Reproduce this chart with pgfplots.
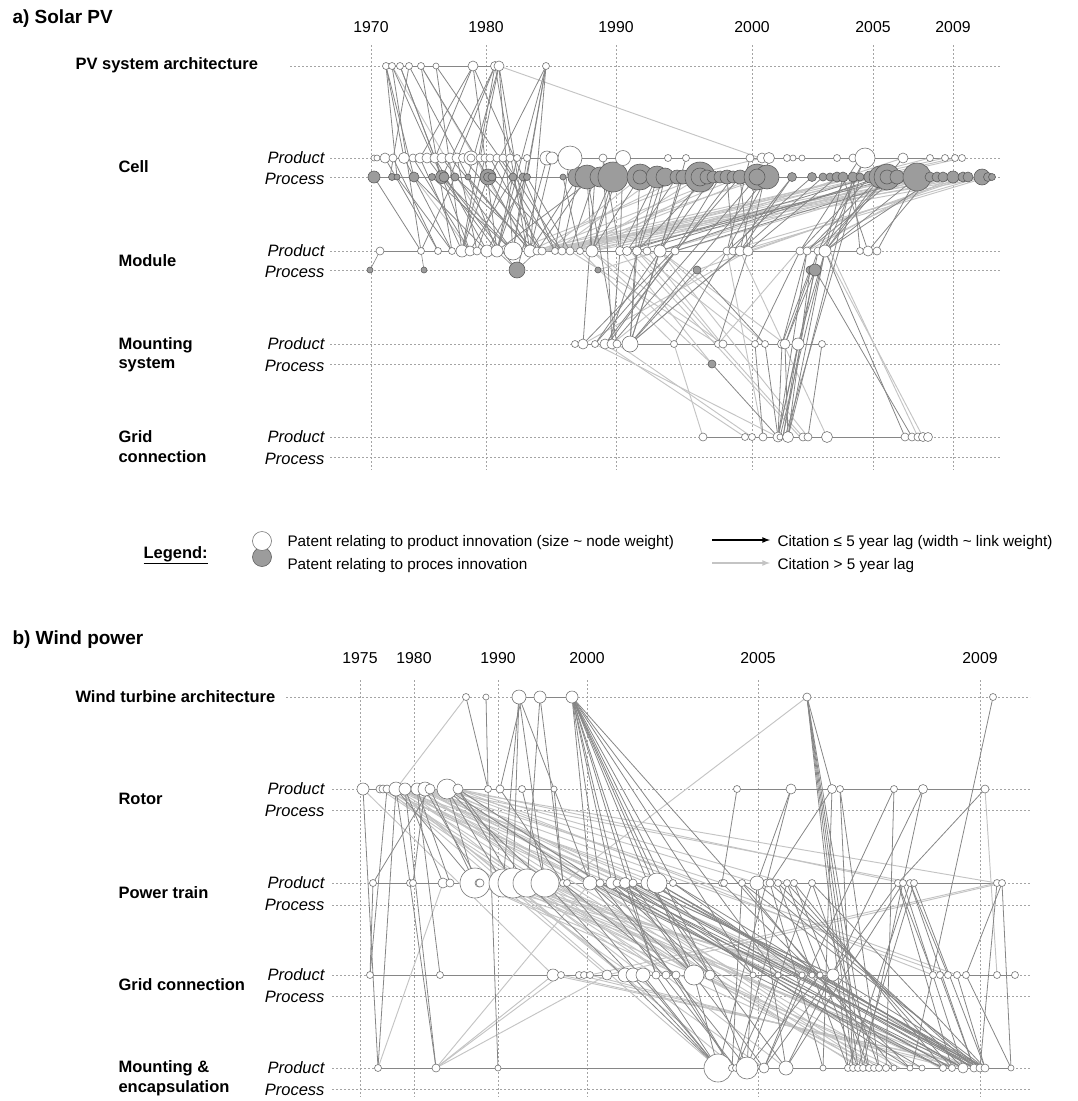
\documentclass[border=0pt]{standalone}
\usepackage{pgfplots}
\pgfplotsset{compat=1.18}
\usepackage{fontspec}
\setmainfont{Liberation Sans}
\definecolor{edgeD}{HTML}{868686}
\definecolor{edgeL}{HTML}{C4C4C4}
\definecolor{nodeE}{HTML}{767676}
\definecolor{procF}{HTML}{9C9C9C}
\definecolor{gridC}{HTML}{A4A4A4}
\pgfplotsset{
 seg/.style={mark=none, quiver={u=\thisrow{x2}-\thisrow{x1}, v=\thisrow{y2}-\thisrow{y1}}},
 gridl/.style={seg, color=gridC, line width=0.6pt, dash pattern=on 2pt off 2pt},
 rowl/.style={seg, color=edgeD, line width=0.6pt},
 dk/.style={seg, color=edgeD, line width=0.8pt},
 lt/.style={seg, color=edgeL, line width=0.95pt},
 nodeP/.style={scatter, only marks, mark=*, point meta=\thisrow{r},
   scatter/use mapped color={draw=nodeE, fill=white},
   visualization depends on={\thisrow{r}\as\rad},
   scatter/@pre marker code/.append style={/tikz/mark size=\rad},
   mark options={line width=0.6pt}},
 nodeQ/.style={scatter, only marks, mark=*, point meta=\thisrow{r},
   scatter/use mapped color={draw=nodeE!80!black, fill=procF},
   visualization depends on={\thisrow{r}\as\rad},
   scatter/@pre marker code/.append style={/tikz/mark size=\rad},
   mark options={line width=0.6pt}},
}
\newcommand{\fTtl}{\fontsize{19}{21}\selectfont\bfseries}
\newcommand{\fLbl}{\fontsize{16.5}{18}\selectfont\bfseries}
\newcommand{\fPP}{\fontsize{16.5}{18}\selectfont\itshape}
\newcommand{\fYr}{\fontsize{15.8}{17}\selectfont}
\newcommand{\fLg}{\fontsize{15.3}{17}\selectfont}
\begin{document}
\begin{tikzpicture}
\begin{axis}[width=1077pt, height=1101pt, scale only axis, hide axis, clip=false,
  xmin=0, xmax=1077, ymin=0, ymax=1101, y dir=reverse]
% ---------------- grid lines ----------------
\addplot[gridl] table[x=x1,y=y1] {
x1 y1 x2 y2
371 45 371 470
486 45 486 470
616 45 616 470
752 45 752 470
873 45 873 470
953 45 953 470
290 66 1000 66
330 158 1000 158
330 177 1000 177
330 251 1000 251
330 270 1000 270
330 344 1000 344
330 364 1000 364
330 437 1000 437
330 457 1000 457
360 680 360 1097
414 680 414 1097
498 680 498 1097
587 680 587 1097
758 680 758 1097
980 680 980 1097
286 697 1030 697
332 789 1030 789
332 810 1030 810
332 883 1030 883
332 905 1030 905
332 975 1030 975
332 996 1030 996
332 1068 1030 1068
332 1089 1030 1089
};
% ---------------- solar: row lines ----------------
\addplot[rowl] table[x=x1,y=y1] {
x1 y1 x2 y2
386 66 499 66
374 158 962 158
374 177 992 177
380 251 877 251
370 270 380 251
424 270 421 251
517 270 497 251
517 270 537 251
575 344 822 344
703 437 928 437
};
% ---------------- solar: light edges ----------------
\addplot[lt] table[x=x1,y=y1] {
x1 y1 x2 y2
499 66 760 158
392 66 500 251
421 66 530 251
917 177 542 251
930 177 555 251
943 177 562 251
953 177 570 251
968 177 580 251
982 177 537 251
988 177 592 251
963 177 530 251
937 177 547 251
945 158 530 251
955 158 542 251
962 158 555 251
930 158 570 251
903 158 620 251
870 177 592 251
853 177 562 251
897 177 598 270
917 177 660 251
930 177 675 251
963 177 697 270
982 177 727 251
988 177 740 251
968 177 748 251
953 177 800 251
943 177 807 251
630 251 800 437
660 251 808 437
637 251 803 437
674 344 703 437
830 251 918 437
825 251 923 437
740 251 827 437
727 251 763 437
605 344 745 437
617 344 752 437
595 344 778 437
647 251 722 344
637 251 755 344
660 251 765 344
718 344 798 251
630 344 740 251
612 344 727 251
583 344 748 251
580 251 674 344
570 251 718 344
592 251 723 344
660 251 785 344
592 251 712 364
712 364 620 251
414 177 470 251
762 158 683 177
640 177 547 251
657 177 555 251
700 177 580 251
720 177 592 251
740 177 562 251
757 177 570 251
767 177 542 251
683 177 530 251
700 177 513 251
727 177 537 251
};
% ---------------- solar: dark edges ----------------
\addplot[dk] table[x=x1,y=y1] {
x1 y1 x2 y2
386 66 404 158
386 66 414 177
386 66 397 177
392 66 442 177
392 66 421 251
400 66 470 251
400 66 435 158
409 66 468 177
409 66 390 177
421 66 488 177
421 66 452 251
436 66 513 177
436 66 462 251
473 66 435 158
473 66 497 251
473 66 523 177
473 66 420 158
495 66 450 177
495 66 462 251
495 66 527 251
495 66 442 177
499 66 513 251
499 66 530 251
499 66 480 158
499 66 468 177
546 66 490 177
546 66 513 251
546 66 530 251
546 66 527 177
546 66 497 251
442 177 513 251
455 177 537 251
468 177 497 251
488 177 530 251
513 177 470 251
523 177 555 251
527 177 487 251
490 158 542 251
503 158 562 251
510 158 477 251
420 158 462 251
435 158 487 251
404 158 452 251
385 158 438 251
444 177 517 270
547 158 517 270
414 177 487 251
432 177 513 251
492 177 562 251
497 158 555 251
578 177 530 251
587 177 537 251
595 177 497 251
563 177 580 251
595 177 583 344
603 158 612 344
640 177 630 344
663 177 608 344
587 177 617 344
683 177 630 344
613 177 592 251
623 158 620 251
657 177 637 251
700 177 660 251
720 177 675 251
733 177 605 344
757 177 612 344
767 177 630 344
740 177 595 344
880 177 660 251
887 177 637 251
897 177 620 251
917 177 675 251
870 177 627 251
880 177 825 251
887 177 818 251
897 177 807 251
917 177 825 251
937 177 825 251
860 158 800 251
865 158 818 251
843 177 780 437
860 177 785 437
853 177 788 437
837 177 748 251
812 177 727 251
792 177 740 251
620 251 612 344
637 251 630 344
660 251 595 344
660 251 630 344
675 251 608 344
673 251 583 344
740 251 630 344
727 251 674 344
748 251 718 344
697 270 630 344
697 270 765 344
810 270 782 344
815 270 785 344
825 251 798 344
818 251 785 344
807 251 782 344
800 251 755 344
815 270 778 437
818 251 783 437
825 251 788 437
810 270 788 437
798 344 778 437
782 344 778 437
785 344 788 437
822 344 808 437
765 344 778 437
755 344 763 437
712 364 778 437
825 251 905 437
815 270 912 437
798 344 783 437
807 251 778 437
374 177 421 251
393 158 438 251
413 158 470 251
427 158 497 251
442 158 513 251
450 158 530 251
457 158 477 251
463 158 542 251
485 158 462 251
517 158 497 251
527 158 513 251
552 158 530 251
570 158 555 251
397 177 452 251
455 177 421 251
468 177 530 251
488 177 462 251
513 177 537 251
523 177 497 251
527 177 570 251
578 177 562 251
587 177 592 251
595 177 570 251
613 177 580 251
640 177 592 251
657 177 620 251
665 177 647 251
677 177 627 251
707 177 637 251
713 177 660 251
727 177 733 251
740 177 748 251
757 177 740 251
767 177 727 251
792 177 733 251
823 177 740 251
870 177 800 251
880 177 807 251
843 177 868 251
853 177 860 251
917 177 877 251
930 177 868 251
603 158 620 251
623 158 592 251
686 158 660 251
750 158 727 251
769 158 748 251
865 158 825 251
903 158 825 251
};
% ---------------- solar: nodes ----------------
\addplot[nodeQ] table {
x y r
374 177 6
392 177 3.5
397 177 3
414 177 5
432 177 3.5
442 177 6.5
444 177 5
455 177 4
468 177 3
488 177 8
488 177 4.5
492 177 4
513 177 4
523 177 4
527 177 3.5
563 177 3
578 177 10
587 177 12
600 177 10
613 177 15
640 177 13
640 177 7
657 177 11
665 177 9
677 177 7
683 177 7
700 177 15
700 177 9
707 177 7
713 177 6
720 177 6
727 177 7
733 177 6
740 177 7
757 177 13
767 177 12
757 177 8
792 177 4.5
812 177 4.5
823 177 4
830 177 4
837 177 5
843 177 5
853 177 5
860 177 4
870 177 6
880 177 11
887 177 13
887 177 7
897 177 7
917 177 14
930 177 5
937 177 5
943 177 5
953 177 6
963 177 5
968 177 5
982 177 8
988 177 4.5
992 177 3.5
370 270 3
424 270 3
517 270 8
598 270 3
697 270 4
810 270 4
815 270 6
712 364 4
};
\addplot[nodeP] table {
x y r
386 66 3.5
392 66 3.5
400 66 3.5
409 66 3.5
421 66 3.5
436 66 3
473 66 5
495 66 4.5
499 66 5
546 66 3.5
374 158 3
377 158 3
385 158 5
393 158 4
404 158 5.5
413 158 4
420 158 5
427 158 5
435 158 5
442 158 5
450 158 5
457 158 5
463 158 4.5
471 158 7
471 158 4
480 158 4
485 158 4
490 158 4
497 158 4
503 158 4
510 158 4
517 158 3.5
527 158 3.5
547 158 7
552 158 6
570 158 12
603 158 4
623 158 7.5
668 158 3.5
686 158 3.5
750 158 4
762 158 5
769 158 5.5
787 158 3.5
793 158 3
802 158 3
837 158 3.5
853 158 4
865 158 10
903 158 5
930 158 3.5
945 158 3.5
955 158 3.5
962 158 3.5
380 251 4
421 251 3.5
438 251 3.5
452 251 3.5
462 251 6
470 251 5
477 251 4
487 251 6
497 251 6
513 251 9
530 251 6
537 251 4
542 251 4
555 251 3.5
562 251 4
570 251 4
580 251 3.5
592 251 6
620 251 4.5
627 251 4.5
637 251 4.5
647 251 4
660 251 6
675 251 4
727 251 4
733 251 4
740 251 5
748 251 5
800 251 4
807 251 4
818 251 4
825 251 6
860 251 3.5
868 251 5
877 251 4
575 344 3.5
583 344 5
595 344 3.5
605 344 5
612 344 5
617 344 4
630 344 8
674 344 3.5
718 344 3.5
723 344 4
755 344 3.5
765 344 3.5
782 344 4.5
785 344 5
798 344 6
822 344 3.5
703 437 4
745 437 3.5
752 437 3.5
763 437 4
778 437 5
780 437 3
788 437 5.5
803 437 4
808 437 4
827 437 5.5
905 437 4
912 437 4
918 437 4
923 437 4.5
928 437 4.5
};
% ---------------- wind: row lines ----------------
\addplot[rowl] table[x=x1,y=y1] {
x1 y1 x2 y2
519 697 572 697
363 789 554 789
737 789 985 789
373 883 1002 883
370 975 1015 975
378 1068 1011 1068
};
% ---------------- wind: light edges ----------------
\addplot[lt] table[x=x1,y=y1] {
x1 y1 x2 y2
466 697 396 789
807 697 563 883
396 789 545 883
396 789 590 883
396 789 633 883
396 789 674 883
405 789 700 975
405 789 778 975
417 789 860 1068
425 789 900 1068
430 789 940 1068
447 789 985 1068
447 789 957 975
458 789 933 975
425 789 812 975
396 789 718 1068
458 789 903 883
447 789 997 883
430 789 914 883
425 789 948 975
417 789 694 975
405 789 643 975
396 789 625 975
387 789 607 975
383 789 590 883
380 789 612 883
447 789 757 883
458 789 787 883
430 789 722 883
425 789 648 883
417 789 657 883
436 1068 553 975
436 1068 561 975
436 1068 590 883
436 1068 607 975
378 1068 443 883
503 883 974 1068
513 883 963 1068
527 883 952 1068
545 883 943 1068
475 883 922 1068
475 883 886 1068
503 883 910 1068
513 883 894 1068
527 883 874 1068
545 883 863 1068
475 883 833 975
503 883 820 975
513 883 812 975
527 883 802 975
545 883 778 975
475 883 753 975
553 975 985 1068
561 975 980 1068
579 975 963 1068
590 975 952 1068
985 789 997 975
590 975 997 883
607 975 1002 883
363 789 553 975
383 789 666 975
380 789 656 975
387 789 676 975
405 789 710 975
417 789 820 975
430 789 833 975
447 789 874 1068
458 789 879 1068
425 789 869 1068
396 789 736 1068
503 883 764 1068
545 883 786 1068
};
% ---------------- wind: dark edges ----------------
\addplot[dk] table[x=x1,y=y1] {
x1 y1 x2 y2
466 697 488 789
486 697 488 789
519 697 503 883
519 697 513 883
522 697 500 789
540 697 527 883
519 697 545 883
572 697 617 883
572 697 633 883
572 697 648 883
572 697 658 883
572 697 674 883
572 697 694 975
572 697 710 975
572 697 753 975
572 697 778 975
572 697 820 975
572 697 656 975
807 697 848 1068
807 697 853 1068
807 697 858 1068
807 697 863 1068
807 697 869 1068
807 697 832 789
993 697 912 1068
363 789 378 1068
396 789 378 1068
405 789 436 1068
417 789 440 975
387 789 370 975
396 789 475 883
447 789 475 883
447 789 503 883
458 789 513 883
425 789 480 883
430 789 373 883
488 789 498 1068
522 789 545 883
458 789 527 883
447 789 545 883
410 883 436 1068
373 883 370 975
554 789 563 883
500 789 563 883
600 883 985 1068
612 883 980 1068
625 883 974 1068
633 883 963 1068
648 883 985 1068
657 883 980 1068
673 883 974 1068
590 883 963 1068
617 883 952 1068
742 883 985 1068
757 883 980 1068
770 883 974 1068
778 883 963 1068
787 883 952 1068
794 883 943 1068
812 883 985 1068
600 883 943 1068
612 883 922 1068
625 883 910 1068
563 883 676 975
590 883 694 975
612 883 710 975
633 883 694 975
648 883 710 975
657 883 753 975
625 883 656 975
545 883 718 1068
527 883 718 1068
590 883 736 1068
612 883 732 1068
694 975 718 1068
656 975 718 1068
676 975 732 1068
710 975 747 1068
778 975 736 1068
820 975 747 1068
802 975 764 1068
643 975 718 1068
736 1068 787 883
747 1068 812 883
764 1068 898 883
786 1068 903 883
786 1068 923 789
764 1068 894 789
848 1068 910 883
858 1068 914 883
823 1068 832 789
853 1068 840 789
718 1068 791 789
732 1068 742 883
747 1068 757 883
933 975 898 883
948 975 910 883
957 975 985 1068
966 975 1011 1068
940 975 974 1068
997 883 980 1068
1002 883 1011 1068
1002 883 966 975
985 789 898 883
923 789 863 1068
894 789 886 1068
840 789 879 1068
791 789 757 883
737 789 722 883
832 789 770 883
633 883 833 975
648 883 820 975
657 883 812 975
673 883 802 975
833 975 985 1068
820 975 980 1068
396 789 410 883
405 789 443 883
417 789 450 883
425 789 413 883
447 789 590 883
458 789 600 883
430 789 475 883
572 697 590 883
572 697 600 883
572 697 612 883
540 697 563 883
519 697 590 883
563 883 718 1068
600 883 747 1068
625 883 764 1068
648 883 786 1068
757 883 786 1068
770 883 823 1068
778 883 848 1068
787 883 858 1068
794 883 869 1068
812 883 879 1068
742 883 894 1068
722 883 910 1068
898 883 952 1068
903 883 963 1068
910 883 974 1068
914 883 985 1068
812 975 974 1068
802 975 963 1068
778 975 952 1068
753 975 943 1068
};
% ---------------- wind: nodes ----------------
\addplot[nodeP] table {
x y r
466 697 3.5
486 697 3
519 697 7
540 697 6
572 697 6
807 697 4
993 697 3.5
363 789 6
380 789 4
383 789 4
387 789 4
396 789 7
405 789 6
417 789 6
425 789 7
430 789 5
447 789 10
458 789 5
488 789 3.5
500 789 4
522 789 3.5
554 789 3
737 789 3.5
791 789 5
832 789 4.5
840 789 3.5
894 789 3.5
923 789 4.5
985 789 4
373 883 3.5
410 883 3.5
413 883 3.5
443 883 5
450 883 4
475 883 15
479 883 4
480 883 4
503 883 14
513 883 15
527 883 14
545 883 14
563 883 3.5
567 883 3.5
590 883 7
600 883 4
612 883 6
617 883 4
625 883 5.5
633 883 4
648 883 7
657 883 10
673 883 3.5
722 883 3.5
724 883 3.5
742 883 3.5
757 883 7
767 883 4
770 883 4
778 883 3.5
787 883 3.5
794 883 3.5
812 883 3.5
898 883 3.5
903 883 3.5
910 883 3.5
914 883 3.5
997 883 3.5
1002 883 3.5
370 975 3.5
440 975 3.5
553 975 6
561 975 3.5
579 975 3.5
584 975 3.5
590 975 3.5
607 975 5
625 975 7
633 975 7
643 975 7
656 975 4
666 975 4
676 975 4
694 975 10
710 975 5
753 975 3
778 975 3
802 975 3
812 975 3
820 975 3
833 975 6
933 975 3.5
940 975 3.5
948 975 3.5
957 975 3.5
966 975 3.5
997 975 3.5
1015 975 3.5
378 1068 3.5
436 1068 4
498 1068 3
718 1068 14
732 1068 3.5
736 1068 3.5
747 1068 11
764 1068 5
786 1068 7
823 1068 3
848 1068 3.5
853 1068 3.5
858 1068 3.5
863 1068 3.5
869 1068 3.5
874 1068 3.5
879 1068 3.5
886 1068 3.5
894 1068 3
910 1068 3
922 1068 3
943 1068 3.5
952 1068 3.5
963 1068 5
974 1068 4
980 1068 4
985 1068 4
1011 1068 3
};
% ---------------- legend ----------------
\addplot[nodeQ] table {
x y r
262 557 9.5
};
\addplot[nodeP] table {
x y r
262 541 9.5
};
\addplot[black, line width=1.6pt, -latex, mark=none] coordinates {(712,540) (770,540)};
\addplot[edgeL, line width=1.6pt, -latex, mark=none] coordinates {(712,563) (770,563)};
% ---------------- texts ----------------
\node[anchor=west, font=\fTtl] at (axis cs:9,19) {a) Solar PV};
\node[anchor=west, font=\fTtl] at (axis cs:9,640) {b) Wind power};
\node[font=\fYr] at (axis cs:371,27) {1970};
\node[font=\fYr] at (axis cs:486,27) {1980};
\node[font=\fYr] at (axis cs:616,27) {1990};
\node[font=\fYr] at (axis cs:752,27) {2000};
\node[font=\fYr] at (axis cs:873,27) {2005};
\node[font=\fYr] at (axis cs:953,27) {2009};
\node[font=\fYr] at (axis cs:360,658) {1975};
\node[font=\fYr] at (axis cs:414,658) {1980};
\node[font=\fYr] at (axis cs:498,658) {1990};
\node[font=\fYr] at (axis cs:587,658) {2000};
\node[font=\fYr] at (axis cs:758,658) {2005};
\node[font=\fYr] at (axis cs:980,658) {2009};
\node[anchor=west, font=\fLbl] at (axis cs:72,65) {PV system architecture};
\node[anchor=west, font=\fLbl] at (axis cs:115,167) {Cell};
\node[anchor=west, font=\fLbl] at (axis cs:115,261) {Module};
\node[anchor=west, font=\fLbl] at (axis cs:115,345) {Mounting};
\node[anchor=west, font=\fLbl] at (axis cs:115,365) {system};
\node[anchor=west, font=\fLbl] at (axis cs:115,437) {Grid};
\node[anchor=west, font=\fLbl] at (axis cs:115,457) {connection};
\node[anchor=west, font=\fLbl] at (axis cs:72,697) {Wind turbine architecture};
\node[anchor=west, font=\fLbl] at (axis cs:115,799) {Rotor};
\node[anchor=west, font=\fLbl] at (axis cs:115,893) {Power train};
\node[anchor=west, font=\fLbl] at (axis cs:115,985) {Grid connection};
\node[anchor=west, font=\fLbl] at (axis cs:115,1068) {Mounting \&};
\node[anchor=west, font=\fLbl] at (axis cs:115,1088) {encapsulation};
\node[anchor=east, font=\fPP] at (axis cs:328,158) {Product};
\node[anchor=east, font=\fPP] at (axis cs:328,251) {Product};
\node[anchor=east, font=\fPP] at (axis cs:328,344) {Product};
\node[anchor=east, font=\fPP] at (axis cs:328,437) {Product};
\node[anchor=east, font=\fPP] at (axis cs:328,789) {Product};
\node[anchor=east, font=\fPP] at (axis cs:328,883) {Product};
\node[anchor=east, font=\fPP] at (axis cs:328,975) {Product};
\node[anchor=east, font=\fPP] at (axis cs:328,1068) {Product};
\node[anchor=east, font=\fPP] at (axis cs:328,179) {Process};
\node[anchor=east, font=\fPP] at (axis cs:328,272) {Process};
\node[anchor=east, font=\fPP] at (axis cs:328,366) {Process};
\node[anchor=east, font=\fPP] at (axis cs:328,459) {Process};
\node[anchor=east, font=\fPP] at (axis cs:328,811) {Process};
\node[anchor=east, font=\fPP] at (axis cs:328,905) {Process};
\node[anchor=east, font=\fPP] at (axis cs:328,997) {Process};
\node[anchor=east, font=\fPP] at (axis cs:328,1090) {Process};
\node[anchor=west, font=\fLbl] at (axis cs:140,555) {\underline{Legend:}};
\node[anchor=west, font=\fLg] at (axis cs:284,543) {Patent relating to product innovation (size \textasciitilde{} node weight)};
\node[anchor=west, font=\fLg] at (axis cs:284,566) {Patent relating to proces innovation};
\node[anchor=west, font=\fLg] at (axis cs:774,543) {Citation ≤ 5 year lag (width \textasciitilde{} link weight)};
\node[anchor=west, font=\fLg] at (axis cs:774,566) {Citation > 5 year lag};
\end{axis}
\pgfresetboundingbox
\path (current axis.south west) rectangle (current axis.north east);
\end{tikzpicture}
\end{document}
